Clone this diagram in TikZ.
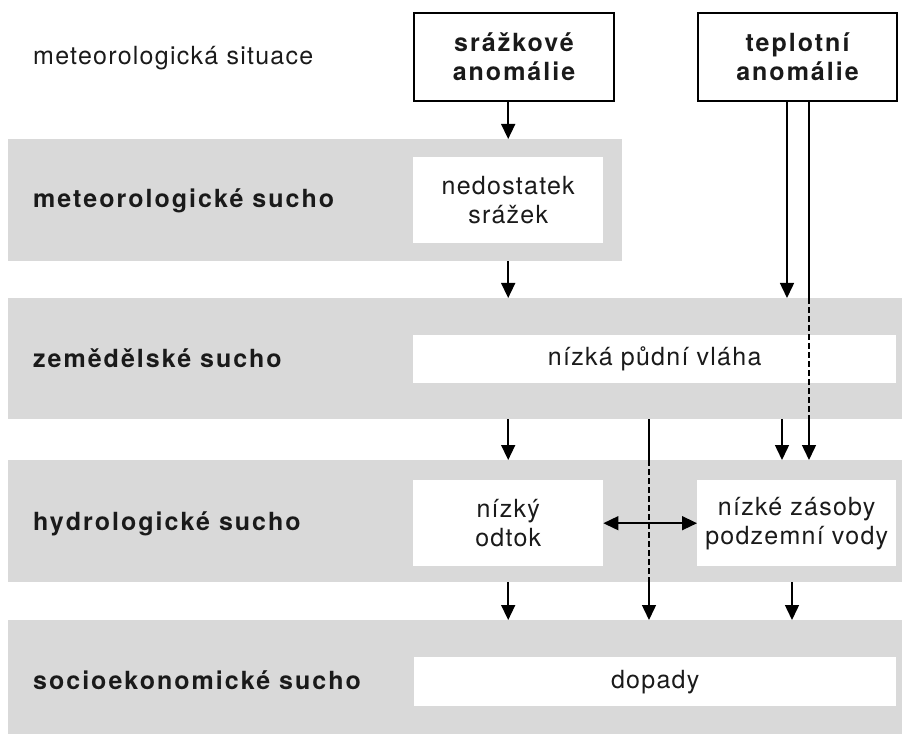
\documentclass[tikz,border=0pt]{standalone}
\usepackage{fontspec}
\setmainfont{TeX Gyre Heros}[LetterSpace=5, BoldFeatures={LetterSpace=8}]
\usepackage{tikz}
\usetikzlibrary{arrows.meta}
\usepackage{xcolor}
\definecolor{bandgray}{RGB}{217, 217, 217}
\definecolor{inkblack}{RGB}{26, 26, 26}

\begin{document}
\begin{tikzpicture}[x=1pt, y=-1pt, >={Triangle[length=15pt, width=14pt]},
    every node/.style={font=\fontsize{25}{29}\selectfont, text=inkblack},
    rowlabel/.style={inner sep=0, anchor=base west},
    band/.style={fill=bandgray, inner sep=0, anchor=north west},
    cell/.style={fill=white, inner sep=0, anchor=north west, align=center},
    anomaly/.style={draw, line width=2pt, fill=white, inner sep=0, anchor=north west, align=center, font=\fontsize{25}{29}\selectfont\bfseries},
    arr/.style={->, line width=1.5pt},
    dashline/.style={line width=1.5pt, dash pattern=on 6pt off 3pt}]
    \useasboundingbox (0,0) rectangle (902,735);
    % bands
    \node[band, minimum width=614pt, minimum height=122pt] (b1) at (8,139) {};
    \node[band, minimum width=894pt, minimum height=121pt] (b2) at (8,298) {};
    \node[band, minimum width=894pt, minimum height=122pt] (b3) at (8,460) {};
    \node[band, minimum width=894pt, minimum height=114pt] (b4) at (8,620) {};
    % row labels
    \node[rowlabel] (situace) at (33,65) {meteorologická situace};
    \node[rowlabel] (lmet) at (33,208) {\textbf{meteorologické sucho}};
    \node[rowlabel] (lzem) at (33,367) {\textbf{zemědělské sucho}};
    \node[rowlabel] (lhyd) at (33,530) {\textbf{hydrologické sucho}};
    \node[rowlabel] (lsoc) at (33,689) {\textbf{socioekonomické sucho}};
    % boxes
    \node[anomaly, minimum width=200pt, minimum height=88pt] (srazky) at (413,12) {srážkové\\anomálie};
    \node[anomaly, minimum width=199pt, minimum height=88pt] (teplota) at (697,12) {teplotní\\anomálie};
    \node[cell, minimum width=190pt, minimum height=86pt] (nedostatek) at (413,157) {nedostatek\\srážek};
    \node[cell, minimum width=483pt, minimum height=48pt] (vlaha) at (413,335) {nízká půdní vláha};
    \node[cell, minimum width=190pt, minimum height=86pt] (odtok) at (413,480) {nízký\\odtok};
    \node[cell, minimum width=199pt, minimum height=86pt] (zasoby) at (697,480) {nízké zásoby\\podzemní vody};
    \node[cell, minimum width=482pt, minimum height=49pt] (dopady) at (414,657) {dopady};
    % line positions
    \coordinate (ta) at (787,0);
    \coordinate (tb) at (809,0);
    \coordinate (mid) at (649,0);
    \coordinate (zr) at (782,0);
    \coordinate (zs) at (792,0);
    % connectors
    \draw[arr] (srazky.south -| nedostatek) -- (b1.north -| nedostatek);
    \draw[arr] (b1.south -| nedostatek) -- (b2.north -| nedostatek);
    \draw[arr] (teplota.south -| ta) -- (b2.north -| ta);
    \draw[line width=1.5pt] (teplota.south -| tb) -- (b2.north -| tb);
    \draw[dashline] (b2.north -| tb) -- (b2.south -| tb);
    \draw[arr] (b2.south -| tb) -- (b3.north -| tb);
    \draw[arr] (b2.south -| odtok) -- (b3.north -| odtok);
    \draw[arr] (b2.south -| zr) -- (b3.north -| zr);
    \draw[line width=1.5pt] (b2.south -| mid) -- (b3.north -| mid);
    \draw[dashline] (b3.north -| mid) -- (b3.south -| mid);
    \draw[arr] (b3.south -| mid) -- (b4.north -| mid);
    \draw[arr] (b3.south -| odtok) -- (b4.north -| odtok);
    \draw[arr] (b3.south -| zs) -- (b4.north -| zs);
    \draw[arr, <->] (odtok.east) -- (zasoby.west);
\end{tikzpicture}
\end{document}
